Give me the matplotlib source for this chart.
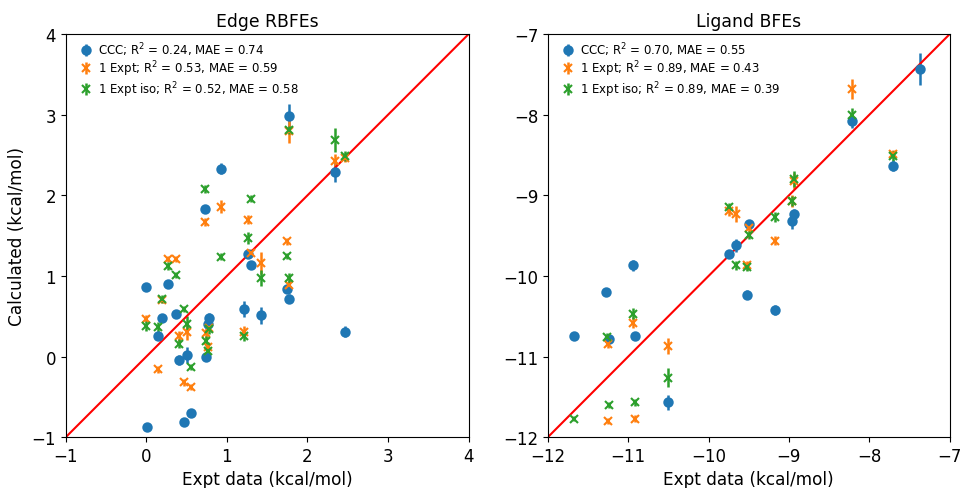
import matplotlib
matplotlib.use("Agg")
import matplotlib.pyplot as plt
import numpy as np

# ---- Edge RBFEs (left) ----
edge_ccc_x = [0.00, 0.01, 0.14, 0.19, 0.27, 0.37, 0.40, 0.47, 0.51, 0.55, 0.73, 0.74,
              0.76, 0.78, 0.93, 1.21, 1.26, 1.30, 1.42, 1.75, 1.77, 1.77, 2.34, 2.47]
edge_ccc_y = [0.86, -0.88, 0.25, 0.48, 0.90, 0.53, -0.04, -0.81, 0.02, -0.70, 1.83, -0.01,
              0.40, 0.48, 2.33, 0.59, 1.27, 1.14, 0.51, 0.84, 0.72, 2.98, 2.29, 0.31]
edge_ccc_err = [0.04, 0.04, 0.04, 0.04, 0.04, 0.04, 0.06, 0.04, 0.10, 0.04, 0.04, 0.04,
                0.04, 0.06, 0.07, 0.10, 0.05, 0.04, 0.10, 0.05, 0.06, 0.16, 0.13, 0.07]

edge_e1_x = [0.00, 0.14, 0.19, 0.27, 0.37, 0.40, 0.47, 0.51, 0.55, 0.73, 0.74,
             0.76, 0.78, 0.93, 1.21, 1.26, 1.30, 1.42, 1.75, 1.77, 1.77, 2.34, 2.47]
edge_e1_y = [0.47, -0.16, 0.70, 1.21, 1.21, 0.25, -0.32, 0.31, -0.38, 1.67, 0.29,
             0.12, 0.36, 1.86, 0.31, 1.70, 1.29, 1.16, 1.43, 0.89, 2.80, 2.43, 2.47]
edge_e1_err = [0.04, 0.04, 0.04, 0.04, 0.04, 0.07, 0.04, 0.10, 0.04, 0.05, 0.07,
               0.06, 0.04, 0.08, 0.07, 0.06, 0.05, 0.14, 0.04, 0.06, 0.15, 0.08, 0.05]

edge_e2_x = [0.00, 0.14, 0.19, 0.27, 0.37, 0.40, 0.47, 0.51, 0.55, 0.73, 0.74,
             0.76, 0.78, 0.93, 1.21, 1.26, 1.30, 1.42, 1.75, 1.77, 1.77, 2.34, 2.47]
edge_e2_y = [0.38, 0.37, 0.71, 1.12, 1.01, 0.16, 0.59, 0.40, -0.13, 2.08, 0.19,
             0.07, 0.34, 1.24, 0.26, 1.47, 1.96, 0.97, 1.25, 0.97, 2.81, 2.69, 2.49]
edge_e2_err = [0.06, 0.06, 0.05, 0.05, 0.04, 0.06, 0.04, 0.10, 0.04, 0.05, 0.06,
               0.05, 0.06, 0.04, 0.07, 0.07, 0.04, 0.10, 0.04, 0.07, 0.05, 0.15, 0.06]

# ---- Ligand BFEs (right) ----
lig_ccc_x = [-11.67, -11.28, -11.24, -10.94, -10.91, -10.50, -9.745, -9.66, -9.50, -9.52,
             -9.17, -8.96, -8.94, -8.21, -7.70, -7.37]
lig_ccc_y = [-10.75, -10.20, -10.78, -9.87, -10.74, -11.57, -9.73, -9.62, -9.35, -10.23,
             -10.42, -9.32, -9.23, -8.08, -8.63, -7.43]
lig_ccc_err = [0.04, 0.04, 0.04, 0.07, 0.04, 0.09, 0.05, 0.08, 0.05, 0.06,
               0.06, 0.10, 0.06, 0.09, 0.07, 0.20]

lig_e1_x = [-11.25, -11.25, -10.94, -10.91, -10.50, -9.745, -9.66, -9.52, -9.50,
            -9.17, -8.96, -8.94, -8.21, -7.70]
lig_e1_y = [-10.85, -11.80, -10.58, -11.77, -10.87, -9.19, -9.23, -9.87, -9.40,
            -9.56, -9.07, -8.82, -7.68, -8.49]
lig_e1_err = [0.05, 0.04, 0.07, 0.04, 0.10, 0.06, 0.10, 0.06, 0.05,
              0.05, 0.07, 0.10, 0.12, 0.05]

lig_e2_x = [-11.67, -11.27, -11.24, -10.94, -10.91, -10.50, -9.745, -9.66, -9.52, -9.50,
            -9.17, -8.96, -8.94, -8.21, -7.70]
lig_e2_y = [-11.77, -10.76, -11.60, -10.47, -11.57, -11.26, -9.15, -9.87, -9.89, -9.49,
            -9.27, -9.07, -8.80, -8.00, -8.51]
lig_e2_err = [0.03, 0.05, 0.04, 0.07, 0.04, 0.12, 0.06, 0.06, 0.05, 0.05,
              0.06, 0.06, 0.10, 0.08, 0.06]

edge_labels = ["CCC; R$^2$ = 0.24, MAE = 0.74",
               "1 Expt; R$^2$ = 0.53, MAE = 0.59",
               "1 Expt iso; R$^2$ = 0.52, MAE = 0.58"]
lig_labels = ["CCC; R$^2$ = 0.70, MAE = 0.55",
              "1 Expt; R$^2$ = 0.89, MAE = 0.43",
              "1 Expt iso; R$^2$ = 0.89, MAE = 0.39"]


def panel(ax, series, labels, lims, ticks, title):
    colors = ["#1f77b4", "#ff7f0e", "#2ca02c"]
    markers = ["o", "x", "x"]
    for (x, y, e), lab, c, m in zip(series, labels, colors, markers):
        ax.errorbar(x, y, yerr=e, fmt=m, color=c, ms=6, mew=1.5, elinewidth=1.8,
                    capsize=0, label=lab)
    ax.plot(lims, lims, color="red", lw=1.5)
    ax.set_xlim(lims); ax.set_ylim(lims)
    ax.set_xticks(ticks); ax.set_yticks(ticks)
    ax.tick_params(labelsize=12)
    ax.set_title(title, fontsize=12.4)
    ax.set_xlabel("Expt data (kcal/mol)", fontsize=12.2)
    # legend sits slightly in from the corner, rows tight like the original
    ax.legend(loc="upper left", bbox_to_anchor=(0.012, 1.012), fontsize=8.5, frameon=False,
              handlelength=0.8, handletextpad=0.6, labelspacing=0.08)


fig = plt.figure(figsize=(9.68, 4.89), dpi=100)
ax1 = fig.add_axes([0.068, 0.104, 0.416, 0.824])
ax2 = fig.add_axes([0.566, 0.104, 0.415, 0.824])

panel(ax1, [(edge_ccc_x, edge_ccc_y, edge_ccc_err), (edge_e1_x, edge_e1_y, edge_e1_err),
            (edge_e2_x, edge_e2_y, edge_e2_err)],
      edge_labels, [-1, 4], [-1, 0, 1, 2, 3, 4], "Edge RBFEs")
ax1.set_ylabel("Calculated (kcal/mol)", fontsize=12.2)

panel(ax2, [(lig_ccc_x, lig_ccc_y, lig_ccc_err), (lig_e1_x, lig_e1_y, lig_e1_err),
            (lig_e2_x, lig_e2_y, lig_e2_err)],
      lig_labels, [-12, -7], [-12, -11, -10, -9, -8, -7], "Ligand BFEs")

fig.savefig("out.png", dpi=100)
